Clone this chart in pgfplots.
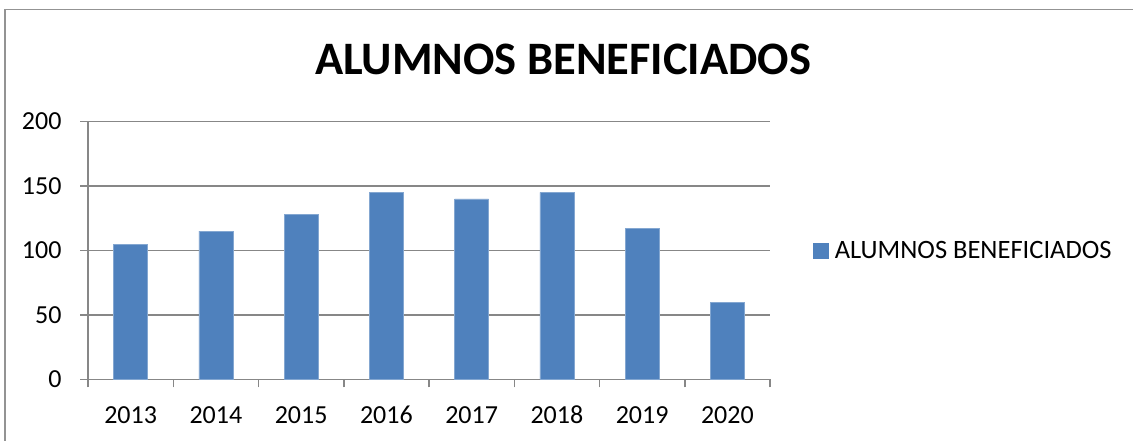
\documentclass[border=0pt]{standalone}
\usepackage{pgfplots}
\pgfplotsset{compat=1.18}
\usepackage{fontspec}
\setmainfont{Carlito}
\definecolor{barblue}{HTML}{4F81BD}
\definecolor{gridgray}{HTML}{878787}

\begin{document}
\begin{tikzpicture}[x=1pt,y=1pt]
\useasboundingbox (0,0) rectangle (1133,441);
% outer chart frame (bottom and right are cut off in the reference)
\draw[gridgray!90, line width=1.5pt] (5,0) -- (5,431.5) -- (1133,431.5);
\node[font=\fontsize{46.5}{52}\selectfont\bfseries, anchor=base] at (563,366) {ALUMNOS BENEFICIADOS};
\begin{axis}[
    at={(88pt,61.5pt)}, anchor=south west,
    width=682pt, height=258pt, scale only axis,
    ybar, bar width=34pt,
    xmin=-0.5, xmax=7.5,
    ymin=0, ymax=200,
    ytick={0,50,...,200},
    xtick={0,...,7},
    xticklabels={2013,2014,2015,2016,2017,2018,2019,2020},
    minor xtick={-0.5,0.5,...,7.5},
    major x tick style={draw=none},
    minor tick length=8pt,
    major tick length=8pt,
    tick align=outside,
    axis x line*=bottom, axis y line*=left,
    axis line style={gridgray, line width=1.5pt, -},
    tick style={gridgray, line width=1.5pt},
    ymajorgrids, grid style={gridgray, line width=1.5pt},
    /pgf/number format/assume math mode=true,
    ticklabel style={font=\fontsize{26}{30}\selectfont},
    xticklabel style={yshift=-14pt, text height=18pt, text depth=0pt},
    yticklabel style={xshift=-15pt},
    legend style={at={(1.063,0.5)}, anchor=west, draw=none, fill=none,
        font=\fontsize{26.5}{30}\selectfont, inner sep=0pt},
    legend image code/.code={\fill[barblue] (0pt,-7.5pt) rectangle (15pt,7.5pt);},
    legend cell align=left,
    legend style={nodes={inner xsep=6pt}},
    clip=false,
]
\addplot[fill=barblue, draw=barblue!70!white, line width=0.6pt]
    coordinates {(0,105) (1,115) (2,128) (3,145) (4,140) (5,145) (6,117) (7,60)};
\addlegendentry{ALUMNOS BENEFICIADOS}
\end{axis}
\end{tikzpicture}
\end{document}
